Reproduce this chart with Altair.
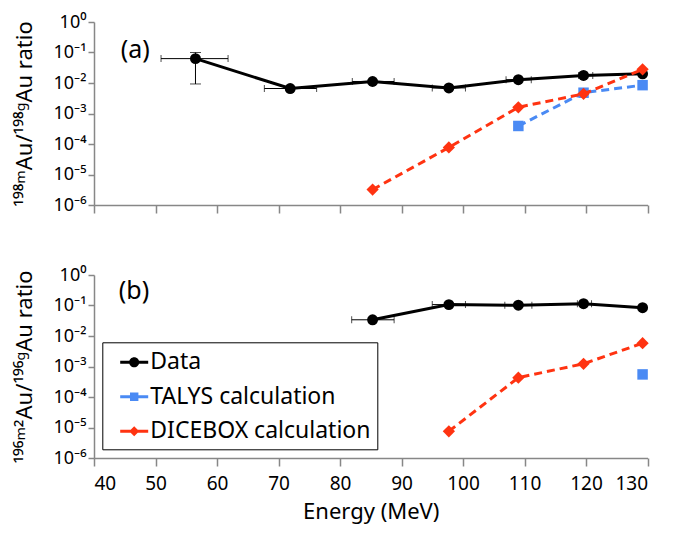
import altair as alt
import pandas as pd

# ---------------- data ----------------
series_names = ["Data", "TALYS calculation", "DICEBOX calculation"]
series_colors = ["#000000", "#4a8af4", "#ff3311"]

# panel (a): 198mAu / 198gAu
a_data_E = [56.5, 71.9, 85.3, 97.7, 109.0, 119.6, 129.2]
a_data_R = [0.063, 0.0066, 0.0112, 0.0069, 0.0128, 0.0177, 0.020]
a_data_Elo = [50.9, 67.7, 82.0, 95.0, 107.0, 118.8, 129.2]
a_data_Ehi = [61.8, 76.2, 88.8, 100.4, 111.1, 121.1, 129.2]
a_yerr_E = [56.5]
a_yerr_lo = [0.0093]
a_yerr_hi = [0.10]
a_talys_E = [109.0, 119.6, 129.2]
a_talys_R = [3.9e-4, 4.8e-3, 8.5e-3]
a_dice_E = [85.3, 97.7, 109.0, 119.6, 129.2]
a_dice_R = [3.2e-6, 7.7e-5, 1.6e-3, 4.4e-3, 0.028]

# panel (b): 196m2Au / 196gAu
b_data_E = [85.3, 97.7, 109.0, 119.6, 129.2]
b_data_R = [0.034, 0.107, 0.102, 0.115, 0.085]
b_data_Elo = [81.9, 95.0, 106.8, 118.6, 129.2]
b_data_Ehi = [88.8, 100.4, 111.2, 120.9, 129.2]
b_talys_E = [129.2]
b_talys_R = [5.5e-4]
b_dice_E = [97.7, 109.0, 119.6, 129.2]
b_dice_R = [7.5e-6, 4.3e-4, 1.23e-3, 5.8e-3]

panel_labels = ["(a)", "(b)"]
panel_label_E = [46.7, 46.5]
panel_label_R = [0.12, 0.29]

x_ticks = [40, 50, 60, 70, 80, 90, 100, 110, 120, 130]
y_ticks = [1e-6, 1e-5, 1e-4, 1e-3, 1e-2, 1e-1, 1]
y_tick_labels = ["10⁻⁶", "10⁻⁵", "10⁻⁴", "10⁻³", "10⁻²", "10⁻¹", "10⁰"]
y_tick_exps = [-6, -5, -4, -3, -2, -1, 0]

y_title_a = "¹⁹⁸ᵐAu/¹⁹⁸ᵍAu ratio"
y_title_b = "¹⁹⁶ᵐ²Au/¹⁹⁶ᵍAu ratio"
x_title = "Energy (MeV)"

FONT = "Noto Sans"
AXIS_GRAY = "#878787"
W, H = 553.5, 183
SPACING = 70

label_expr = "''"
for e, l in zip(y_tick_exps, y_tick_labels):
    label_expr = f"round(log(datum.value)/LN10) == {e} ? '{l}' : ({label_expr})"

# legend symbols: horizontal line + marker (custom SVG paths, unit = sqrt(size)/2),
# drawn shifted right by S units inside the legend entry
S = 0.85
def _sh(v):
    return f"{v + S:.3f}"
bar = f"M{_sh(-1)},-0.11H{_sh(1)}V0.11H{_sh(-1)}Z"
leg_shapes = [
    bar + f"M{_sh(-0.36)},0A0.36,0.36 0 1,1 {_sh(0.36)},0A0.36,0.36 0 1,1 {_sh(-0.36)},0Z",
    bar + f"M{_sh(-0.3)},-0.3H{_sh(0.3)}V0.3H{_sh(-0.3)}Z",
    bar + f"M{_sh(0)},-0.36L{_sh(0.36)},0L{_sh(0)},0.36L{_sh(-0.36)},0Z",
]


def xenc(show_labels):
    return alt.X(
        "E:Q",
        scale=alt.Scale(domain=[40, 130], nice=False, zero=False),
        axis=alt.Axis(
            values=x_ticks,
            labels=show_labels,
            title=x_title if show_labels else None,
            grid=False,
            tickSize=8,
            labelFontSize=19,
            labelPadding=8,
            titleFontSize=22,
            titlePadding=8,
        ),
    )


def yenc(title):
    return alt.Y(
        "R:Q",
        scale=alt.Scale(type="log", domain=[1e-6, 1], nice=False),
        axis=alt.Axis(
            values=y_ticks,
            labelExpr=label_expr,
            title=title,
            grid=False,
            tickSize=6,
            labelFontSize=18,
            labelPadding=2,
            titleFontSize=22,
            titlePadding=17,
        ),
    )


def panel(data_E, data_R, data_Elo, data_Ehi, talys_E, talys_R, dice_E, dice_R,
          yerr, label_idx, title, show_x_labels, legend=None):
    X = xenc(show_x_labels)
    Y = yenc(title)
    d = pd.DataFrame({"E": data_E, "R": data_R, "Elo": data_Elo, "Ehi": data_Ehi})
    t = pd.DataFrame({"E": talys_E, "R": talys_R})
    r = pd.DataFrame({"E": dice_E, "R": dice_R})
    layers = []
    base_d = alt.Chart(d)
    layers.append(base_d.mark_rule(color="black", strokeWidth=1).encode(x=X, x2="Ehi:Q", y=Y).transform_calculate(E="datum.Elo"))
    layers.append(base_d.mark_tick(color="black", orient="vertical", size=7, thickness=1).encode(x=alt.X("Elo:Q"), y=alt.Y("R:Q")))
    layers.append(base_d.mark_tick(color="black", orient="vertical", size=7, thickness=1).encode(x=alt.X("Ehi:Q"), y=alt.Y("R:Q")))
    if yerr is not None:
        ye = pd.DataFrame({"E": yerr[0], "lo": yerr[1], "hi": yerr[2]})
        be = alt.Chart(ye)
        layers.append(be.mark_rule(color="black", strokeWidth=1).encode(x="E:Q", y="lo:Q", y2="hi:Q"))
        layers.append(be.mark_tick(color="black", orient="horizontal", size=11, thickness=1).encode(x="E:Q", y="lo:Q"))
        layers.append(be.mark_tick(color="black", orient="horizontal", size=11, thickness=1).encode(x="E:Q", y="hi:Q"))
    layers.append(base_d.mark_line(color="black", strokeWidth=3).encode(x="E:Q", y="R:Q"))
    layers.append(base_d.mark_point(filled=True, opacity=1, color="black", shape="circle", size=120).encode(x="E:Q", y="R:Q"))
    bt = alt.Chart(t)
    layers.append(bt.mark_line(color=series_colors[1], strokeWidth=3, strokeDash=[8, 5]).encode(x="E:Q", y="R:Q"))
    layers.append(bt.mark_point(filled=True, opacity=1, color=series_colors[1], shape="square", size=110).encode(x="E:Q", y="R:Q"))
    br = alt.Chart(r)
    layers.append(br.mark_line(color=series_colors[2], strokeWidth=3, strokeDash=[8, 5]).encode(x="E:Q", y="R:Q"))
    layers.append(br.mark_point(filled=True, opacity=1, color=series_colors[2], shape="diamond", size=150).encode(x="E:Q", y="R:Q"))
    lab = pd.DataFrame({"E": [panel_label_E[label_idx]], "R": [panel_label_R[label_idx]], "txt": [panel_labels[label_idx]]})
    layers.append(alt.Chart(lab).mark_text(fontSize=25, font=FONT, align="center", baseline="middle").encode(x="E:Q", y="R:Q", text="txt:N"))
    if legend is not None:
        lg = pd.DataFrame({"E": [100.0] * 3, "R": [0.01] * 3, "series": series_names})
        layers.append(
            alt.Chart(lg).transform_filter("false").mark_point(filled=True, opacity=1).encode(
                x="E:Q",
                y="R:Q",
                color=alt.Color("series:N", scale=alt.Scale(domain=series_names, range=series_colors), legend=legend),
                shape=alt.Shape("series:N", scale=alt.Scale(domain=series_names, range=leg_shapes), legend=legend),
            )
        )
    return alt.layer(*layers).properties(width=W, height=H)


legend = alt.Legend(
    orient="none", legendX=8.3, legendY=H + SPACING + 67.3, title=None,
    symbolSize=784, symbolStrokeWidth=0, labelFontSize=23, labelFont=FONT, labelLimit=400,
    labelOffset=14, padding=6, rowPadding=8.5, strokeColor="black",
    fillColor="white", labelColor="black",
)

top = panel(a_data_E, a_data_R, a_data_Elo, a_data_Ehi, a_talys_E, a_talys_R, a_dice_E, a_dice_R,
            (a_yerr_E, a_yerr_lo, a_yerr_hi), 0, y_title_a, False)
bottom = panel(b_data_E, b_data_R, b_data_Elo, b_data_Ehi, b_talys_E, b_talys_R, b_dice_E, b_dice_R,
               None, 1, y_title_b, True, legend)

chart = alt.vconcat(top, bottom, spacing=SPACING, bounds="flush").properties(
    padding={"left": 5, "top": 5, "right": 5, "bottom": 2}
).configure_view(stroke=None).configure_axis(
    domainColor=AXIS_GRAY, tickColor=AXIS_GRAY, domainWidth=1.5, tickWidth=1.5,
    labelFont=FONT, titleFont=FONT, labelColor="black", titleColor="black",
    titleFontWeight="normal",
).configure_text(font=FONT)

chart.save("out.html", embed_options={"renderer": "svg", "actions": False})
